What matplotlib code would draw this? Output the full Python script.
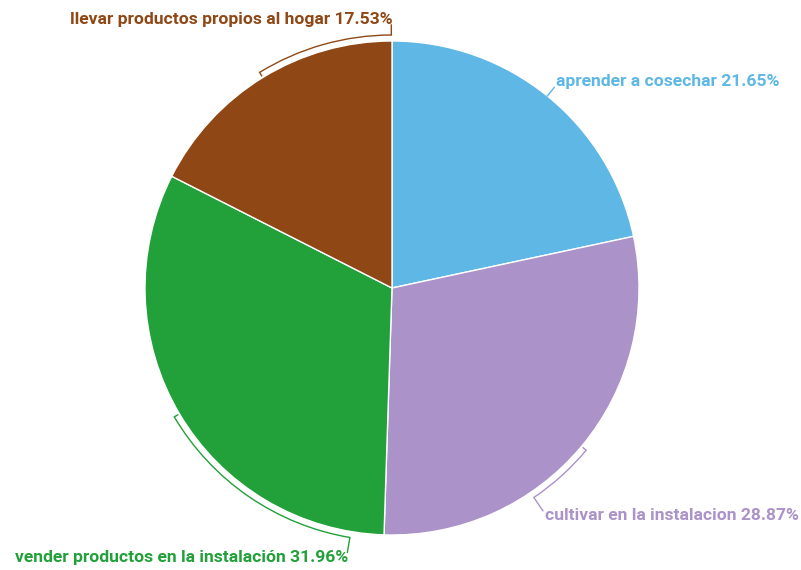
import numpy as np
import matplotlib.pyplot as plt
from matplotlib.patches import Arc

labels = ["aprender a cosechar", "cultivar en la instalacion",
          "vender productos en la instalación", "llevar productos propios al hogar"]
values = [21.65, 28.87, 31.96, 17.53]
colors = ["#5EB7E5", "#AB92C8", "#22A039", "#8F4815"]

W, H = 801, 570
fig = plt.figure(figsize=(W / 100, H / 100), dpi=100)
ax = fig.add_axes([0, 0, 1, 1])

cx, cy, r = 392, 282, 247
wedges, _ = ax.pie(values, colors=colors, startangle=90, counterclock=False,
                   center=(cx, cy), radius=r, frame=False,
                   wedgeprops=dict(edgecolor="white", linewidth=1))
ax.set_xlim(0, W)
ax.set_ylim(0, H)
ax.set_aspect("equal")
ax.axis("off")

# bracket span along the rim (degrees, ccw positive), leader length, alignment
spans = [0, -16, 49.8, -31.4]
leads = [11, 16, 15, 10]
aligns = ["left", "left", "right", "right"]
ra = r + 6
for w, lab, v, c, sp, ln, al in zip(wedges, labels, values, colors, spans, leads, aligns):
    mid = (w.theta1 + w.theta2) / 2
    end = mid + sp
    if sp != 0:
        a1, a2 = sorted([mid, end])
        ax.add_patch(Arc((cx, cy), 2 * ra, 2 * ra, theta1=a1, theta2=a2,
                         color=c, lw=1))
        t = np.radians(mid)
        ax.plot([cx + (ra - 4) * np.cos(t), cx + ra * np.cos(t)],
                [cy + (ra - 4) * np.sin(t), cy + ra * np.sin(t)], color=c, lw=1)
        r0 = ra
    else:
        r0 = r
    t = np.radians(end)
    r1 = r0 + ln
    x0, y0 = cx + r0 * np.cos(t), cy + r0 * np.sin(t)
    x1, y1 = cx + r1 * np.cos(t), cy + r1 * np.sin(t)
    ax.plot([x0, x1], [y0, y1], color=c, lw=1)
    dy = -5 if y1 < cy else 6
    ax.text(x1 + (2 if al == "left" else 1), y1 + dy, f"{lab} {v:.2f}%",
            ha=al, va="center", color=c, fontsize=12.6,
            family="Roboto", fontweight="bold")

fig.savefig("out.png", dpi=100)
